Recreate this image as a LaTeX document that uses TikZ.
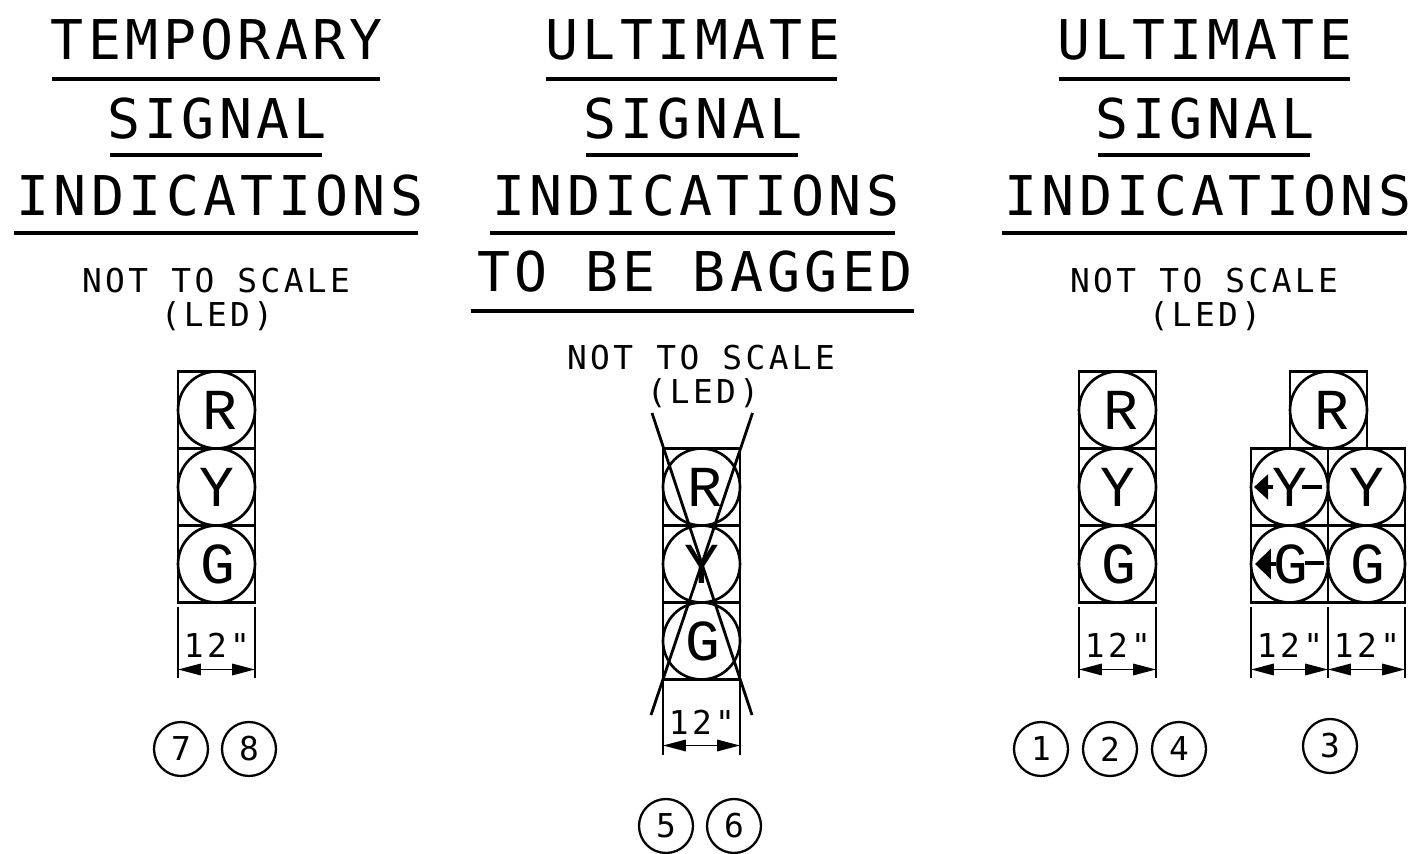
\documentclass[tikz,border=0pt]{standalone}
\usepackage{fontspec}
\usetikzlibrary{calc, arrows.meta}
\newfontfamily\cadbig[LetterSpace=8]{DejaVu Sans Mono}
\newfontfamily\cadsmall[LetterSpace=10.3]{DejaVu Sans Mono}
\newfontfamily\cadlamp{Liberation Mono}
\tikzset{
	title/.style={inner sep=0pt, font=\cadbig\fontsize{31.2pt}{32pt}\selectfont},
	note/.style={inner sep=0pt, font=\cadsmall\fontsize{18.7pt}{19pt}\selectfont},
	titlerule/.style={line width=2.5pt},
	lampbox/.style={draw, line width=1.5pt, minimum size=1.54cm, inner sep=0pt, outer sep=0pt},
	lamp/.style={draw, circle, line width=1.5pt, minimum size=1.54cm, inner sep=0pt, outer sep=0pt, font=\cadlamp\fontsize{33pt}{34pt}\selectfont},
	number/.style={draw, circle, line width=1.3pt, minimum size=1.08cm, inner sep=0pt, font=\cadsmall\fontsize{18.7pt}{19pt}\selectfont},
	dimline/.style={line width=1.1pt},
	dimarrow/.style={line width=1.1pt, arrows={Triangle[length=13pt,width=6.5pt,black,fill=black]-Triangle[length=13pt,width=6.5pt,black,fill=black]}},
	leftarrow/.style={line width=2pt, arrows={-Triangle[length=8pt,width=14pt,black,fill=black]}}
}
\begin{document}
\begin{tikzpicture}[x=0.02cm, y=-0.02cm]
	\useasboundingbox (0,0) rectangle (1417,854);

	%Temporary
	\node[title] (ttemp) at (217,40) {TEMPORARY};
	\draw[titlerule] (52,79) -- (380,79);
	\node[title] (tsig) at (217,119) {SIGNAL};
	\draw[titlerule] (110,155) -- (322,155);
	\node[title] (tind) at (220,196) {INDICATIONS};
	\draw[titlerule] (14,233) -- (418,233);
	\node[note] (tnot) at (216,281) {NOT TO SCALE};
	\node[note] (tled) at (217,316) {(LED)};

	\node[lampbox] (tbr) at (216.5,410) {};
	\node[lampbox] (tby) at (216.5,487) {};
	\node[lampbox] (tbg) at (216.5,564) {};
	\node[lamp] (tr) at (tbr) {\hspace{.12cm}R};
	\node[lamp] (ty) at (tby) {Y};
	\node[lamp] (tg) at (tbg) {\hspace{.06cm}G};
	\draw[dimline] (tbg.south west) ++(0,5) -- ++(0,71);
	\draw[dimline] (tbg.south east) ++(0,5) -- ++(0,71);
	\draw[dimarrow] ($(tbg.south west)+(0,67)$) -- ($(tbg.south east)+(0,67)$);
	\node[note] (tdim) at (217,645) {12"};
	\node[number] (nseven) at (181,749) {7};
	\node[number] (neight) at (249,749) {8};

	%Ultimate, bagged
	\node[title] (btitle) at (693,40) {ULTIMATE};
	\draw[titlerule] (546,79) -- (837,79);
	\node[title] (bsig) at (693,119) {SIGNAL};
	\draw[titlerule] (586,155) -- (798,155);
	\node[title] (bind) at (696,196) {INDICATIONS};
	\draw[titlerule] (490,233) -- (895,233);
	\node[title] (bbag) at (695,272) {TO BE BAGGED};
	\draw[titlerule] (471,311) -- (914,311);
	\node[note] (bnot) at (701,358) {NOT TO SCALE};
	\node[note] (bled) at (703,393) {(LED)};

	\node[lampbox] (bbr) at (701.5,487) {};
	\node[lampbox] (bby) at (701.5,564) {};
	\node[lampbox] (bbg) at (701.5,641) {};
	\node[lamp] (br) at (bbr) {\hspace{.12cm}R};
	\node[lamp] (by) at (bby) {Y};
	\node[lamp] (bg) at (bbg) {\hspace{.06cm}G};
	\draw[line width=1.6pt] (652,413) -- (752,715);
	\draw[line width=1.6pt] (752.5,413) -- (651,715);
	\draw[dimline] (bbg.south west) -- ++(0,76);
	\draw[dimline] (bbg.south east) -- ++(0,76);
	\draw[dimarrow] ($(bbg.south west)+(0,66)$) -- ($(bbg.south east)+(0,66)$);
	\node[note] (bdim) at (702,722) {12"};
	\node[number] (nfive) at (666,826) {5};
	\node[number] (nsix) at (734,826) {6};

	%Ultimate
	\node[title] (utitle) at (1205,40) {ULTIMATE};
	\draw[titlerule] (1059,79) -- (1350,79);
	\node[title] (usig) at (1205,119) {SIGNAL};
	\draw[titlerule] (1098,155) -- (1310,155);
	\node[title] (uind) at (1208,196) {INDICATIONS};
	\draw[titlerule] (1002,233) -- (1407,233);
	\node[note] (unot) at (1204,281) {NOT TO SCALE};
	\node[note] (uled) at (1205,316) {(LED)};

	\node[lampbox] (ubr) at (1117.5,410) {};
	\node[lampbox] (uby) at (1117.5,487) {};
	\node[lampbox] (ubg) at (1117.5,564) {};
	\node[lamp] (ur) at (ubr) {\hspace{.12cm}R};
	\node[lamp] (uy) at (uby) {Y};
	\node[lamp] (ug) at (ubg) {\hspace{.06cm}G};
	\draw[dimline] (ubg.south west) ++(0,5) -- ++(0,71);
	\draw[dimline] (ubg.south east) ++(0,5) -- ++(0,71);
	\draw[dimarrow] ($(ubg.south west)+(0,67)$) -- ($(ubg.south east)+(0,67)$);
	\node[note] (udim) at (1118,645) {12"};
	\node[number] (none) at (1041,749) {1};
	\node[number] (ntwo) at (1110,749) {2};
	\node[number] (nfour) at (1179,749) {4};

	%Signal with turn arrows
	\node[lampbox] (vbr) at (1328.5,410) {};
	\node[lampbox] (vby) at (1289.5,487) {};
	\node[lampbox] (vbg) at (1289.5,564) {};
	\node[lampbox] (wby) at (1366.5,487) {};
	\node[lampbox] (wbg) at (1366.5,564) {};
	\node[lamp] (vr) at (vbr) {\hspace{.12cm}R};
	\node[lamp] (vy) at (vby) {Y};
	\node[lamp] (vg) at (vbg) {\hspace{.06cm}G};
	\node[lamp] (wy) at (wby) {Y};
	\node[lamp] (wg) at (wbg) {\hspace{.06cm}G};
	\draw[leftarrow] (1273,487) -- (1254,487);
	\draw[line width=2pt] (1302,487) -- (1322,487);
	\draw[line width=2pt, arrows={-Triangle[length=9pt,width=17pt,black,fill=black]}] (1276,564) -- (1255,564);
	\draw[line width=2pt] (1305,563) -- (1324,563);
	\draw[dimline] (vbg.south west) ++(0,5) -- ++(0,71);
	\draw[dimline] (vbg.south east) ++(0,5) -- ++(0,71);
	\draw[dimline] (wbg.south east) ++(0,5) -- ++(0,71);
	\draw[dimarrow] ($(vbg.south west)+(0,67)$) -- ($(vbg.south east)+(0,67)$);
	\draw[dimarrow] ($(wbg.south west)+(0,67)$) -- ($(wbg.south east)+(0,67)$);
	\node[note] (vdim) at (1290,645) {12"};
	\node[note] (wdim) at (1367,645) {12"};
	\node[number] (nthree) at (1330,746) {3};
\end{tikzpicture}
\end{document}
